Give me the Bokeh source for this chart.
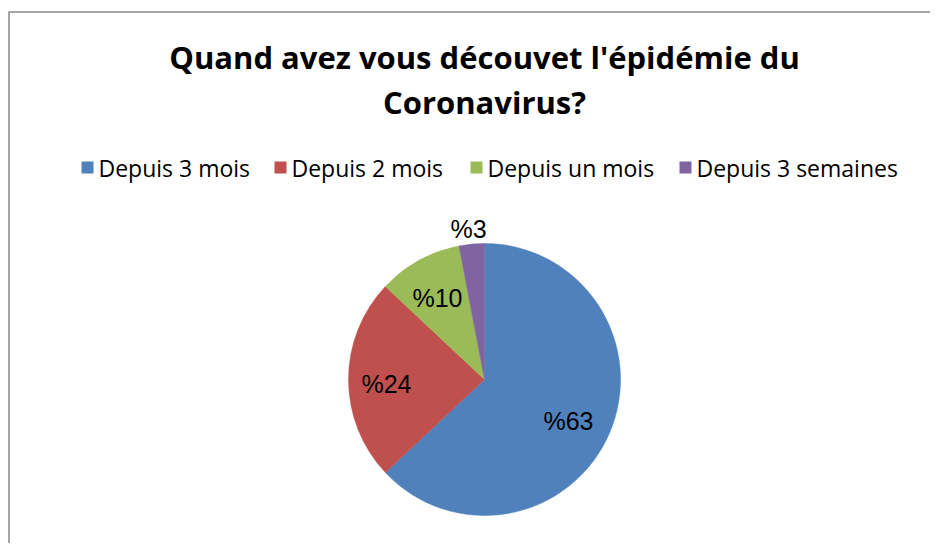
import math
from bokeh.plotting import figure
from bokeh.models import Range1d
from bokeh.core.properties import value
from bokeh.embed import file_html
from bokeh.resources import INLINE

# ---- data ----
title_lines = ["Quand avez vous découvet l'épidémie du", "Coronavirus?"]
categories = ["Depuis 3 mois", "Depuis 2 mois", "Depuis un mois", "Depuis 3 semaines"]
percents = [63, 24, 10, 3]
labels = ["%63", "%24", "%10", "%3"]
colors = ["#4F81BD", "#C0504D", "#9BBB59", "#8064A2"]

# ---- layout (picture pixel coordinates) ----
W, H = 930, 543
def X(px): return px
def Y(py): return H - py

cx, cy, R = 484, 379, 136
label_offsets = [(84, 41), (-98, 4), (-47, -82), (-16, -151)]  # pixel offsets from center
legend_sq_x = [81, 274, 470, 679]
legend_y = 167

p = figure(width=W, height=H, output_backend="svg", toolbar_location=None,
           x_range=Range1d(0, W), y_range=Range1d(0, H), min_border=0)
p.axis.visible = False
p.grid.visible = False
p.outline_line_color = None
p.background_fill_color = "white"
p.border_fill_color = "white"

# chart border (left and top visible)
p.line(x=[X(8.5), X(8.5), X(960)], y=[Y(600), Y(11.5), Y(11.5)],
       line_color="#888888", line_width=1.5)

# title
for i, t in enumerate(title_lines):
    p.text(x=[X(484)], y=[Y(56 + 45 * i)], text=[t], text_align="center",
           text_baseline="middle", text_font=value("Open Sans"), text_font_style="bold",
           text_font_size="31px", text_color="black")

# pie
total = sum(percents)
start = math.pi / 2
starts, ends = [], []
for v in percents:
    a = 2 * math.pi * v / total
    starts.append(start)
    ends.append(start - a)
    start -= a
p.wedge(x=[X(cx)] * 4, y=[Y(cy)] * 4, radius=R, radius_units="screen",
        start_angle=starts, end_angle=ends, direction="clock",
        fill_color=colors, line_color=colors, line_width=0.5)

# labels
for lab, (dx, dy) in zip(labels, label_offsets):
    p.text(x=[X(cx + dx)], y=[Y(cy + dy)], text=[lab], text_align="center",
           text_baseline="middle", text_font=value("Liberation Sans"),
           text_font_size="25px", text_color="black")

# legend
for c, name, sx in zip(colors, categories, legend_sq_x):
    p.rect(x=[X(sx + 6)], y=[Y(legend_y)], width=12, height=12,
           width_units="screen", height_units="screen", fill_color=c, line_color=None)
    p.text(x=[X(sx + 17)], y=[Y(legend_y)], text=[name], text_align="left",
           text_baseline="middle", text_font=value("Open Sans"),
           text_font_size="23px", text_color="black")

open("out.html", "w").write(file_html(p, INLINE))
